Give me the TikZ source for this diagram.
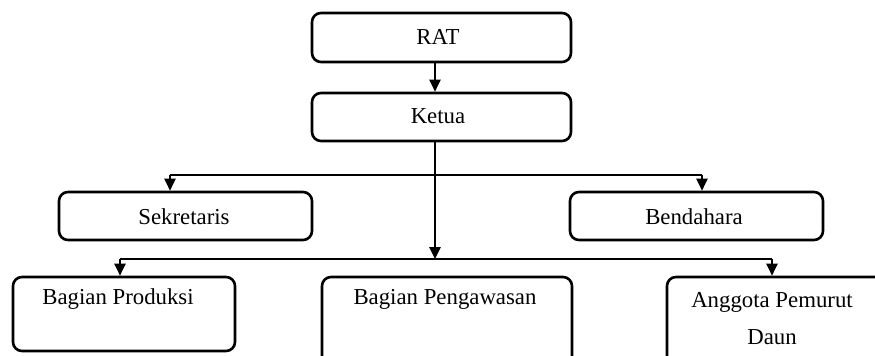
\documentclass[tikz,border=0pt]{standalone}
\usepackage{fontspec}
\setmainfont{Liberation Serif}
\usetikzlibrary{arrows.meta}
\begin{document}
\begin{tikzpicture}[x=0.5pt,y=-0.5pt,
  box/.style={draw, line width=1.3pt, rounded corners=4.5pt, inner sep=0pt},
  lbl/.style={font=\fontsize{11.4}{18.5}\selectfont, inner sep=0pt, align=center},
  link/.style={line width=1pt},
  arr/.style={link, -{Triangle[width=5.5pt,length=6pt]}}]
\useasboundingbox (0,0) rectangle (875,355);
\clip (0,0) rectangle (875,355);

% boxes
\node[box, minimum width=129.5pt, minimum height=24.5pt] (rat)   at (441.5,37.5) {};
\node[box, minimum width=129.5pt, minimum height=24pt]   (ketua) at (441.5,117) {};
\node[box, minimum width=126.5pt, minimum height=24pt]   (sek)   at (185.5,216) {};
\node[box, minimum width=126.5pt, minimum height=24pt]   (bend)  at (696.5,216) {};
\node[box, minimum width=111pt,   minimum height=37pt]   (prod)  at (124,314) {};
\node[box, minimum width=125pt,   minimum height=44pt]   (peng)  at (447,321) {};
\node[box, minimum width=109pt,   minimum height=44pt]   (ang)   at (776,321) {};

% labels
\node[lbl] (trat)   at (438,37)  {RAT};
\node[lbl] (tketua) at (438,116) {Ketua};
\node[lbl] (tsek)   at (184,217) {Sekretaris};
\node[lbl] (tbend)  at (694,217) {Bendahara};
\node[lbl] (tprod)  at (118,299) {Bagian Produksi};
\node[lbl] (tpeng)  at (445,299) {Bagian Pengawasan};
\node[lbl] (tang)   at (772,318.5) {Anggota Pemurut\\Daun};

% connector junctions
\coordinate (trunk) at (435,175);
\coordinate (bus)   at (435,259);
\coordinate (d1) at (170,175);
\coordinate (d2) at (702,175);
\coordinate (d3) at (120,259);
\coordinate (d4) at (772,259);

% connectors
\draw[arr] (rat.south -| trunk) -- (ketua.north -| trunk);
\draw[arr, line width=1.3pt] (ketua.south -| trunk) -- (bus);
\draw[link] (d1) -- (d2);
\draw[link] (d3) -- (d4);
\draw[arr] (d1) -- (d1 |- sek.north);
\draw[arr] (d2) -- (d2 |- bend.north);
\draw[arr] (d3) -- (d3 |- prod.north);
\draw[arr] (d4) -- (d4 |- ang.north);
\end{tikzpicture}
\end{document}
